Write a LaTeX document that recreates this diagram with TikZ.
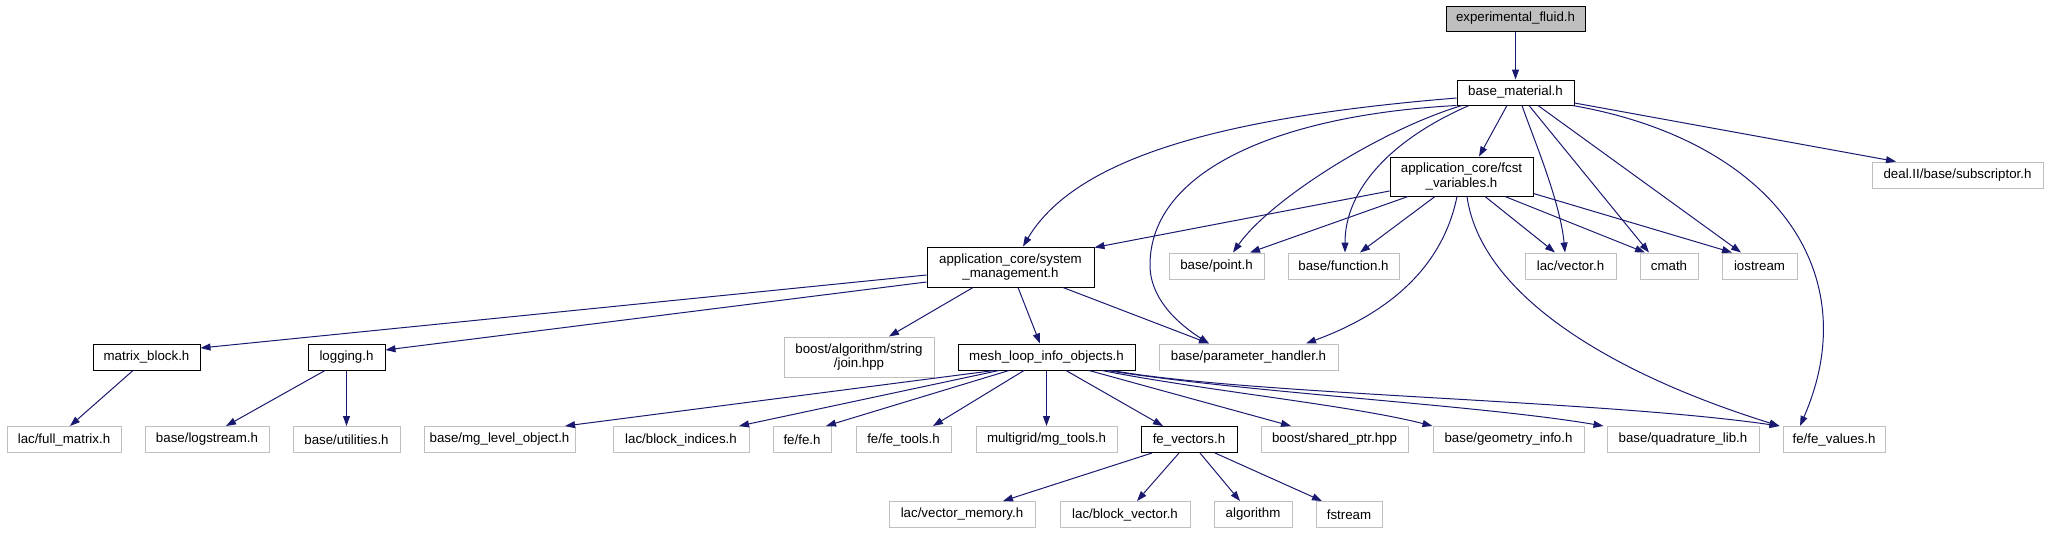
\documentclass[tikz,border=0pt]{standalone}
\usepackage{fontspec}
\setmainfont{Liberation Sans}
\usetikzlibrary{arrows.meta}
\definecolor{edgec}{HTML}{191970}
\definecolor{extc}{HTML}{BFBFBF}
\begin{document}
\begin{tikzpicture}[x=1pt,y=-1pt,
 nd/.style={draw=black, line width=1pt, inner sep=0pt, minimum height=26pt, font=\fontsize{13.3}{14.5}\selectfont, align=center},
 ext/.style={nd, draw=extc},
 ed/.style={draw=edgec, line width=1pt, -{Triangle[length=10pt,width=7pt]}}]
\useasboundingbox (0,0) rectangle (2048,533);
% row 0-1
\node[nd, fill=extc, minimum width=139pt, minimum height=25pt] (exp) at (1515.5,18.5) {experimental\_fluid.h};
\node[nd, minimum width=117pt, minimum height=25pt] (bm) at (1515.5,92.5) {base\_material.h};
% row 2
\node[nd, minimum width=143pt, minimum height=39pt] (fcst) at (1461.5,176.5) {application\_core/fcst\\\_variables.h};
\node[ext, minimum width=171pt] (subs) at (1957.5,175) {deal.II/base/subscriptor.h};
% row 3
\node[nd, minimum width=167pt, minimum height=40pt] (sm) at (1010.5,267) {application\_core/system\\\_management.h};
\node[ext, minimum width=95pt] (point) at (1216.5,266) {base/point.h};
\node[ext, minimum width=111pt] (func) at (1343.5,266) {base/function.h};
\node[ext, minimum width=91pt] (vec) at (1570.5,266) {lac/vector.h};
\node[ext, minimum width=58pt] (cmath) at (1669,266) {cmath};
\node[ext, minimum width=75pt] (iostr) at (1759.5,266) {iostream};
% row 4
\node[nd, minimum width=107pt] (mb) at (146.5,357) {matrix\_block.h};
\node[nd, minimum width=77pt] (logging) at (346.5,357) {logging.h};
\node[ext, minimum width=150pt, minimum height=40pt] (join) at (859,357) {boost/algorithm/string\\/join.hpp};
\node[nd, minimum width=177pt] (mesh) at (1046.5,357) {mesh\_loop\_info\_objects.h};
\node[ext, minimum width=179pt] (param) at (1248.5,357) {base/parameter\_handler.h};
% row 5
\node[ext, minimum width=114pt] (fullm) at (64,439.5) {lac/full\_matrix.h};
\node[ext, minimum width=124pt] (logstr) at (207,439.5) {base/logstream.h};
\node[ext, minimum width=107pt] (util) at (346.5,439.5) {base/utilities.h};
\node[ext, minimum width=151pt] (mglevel) at (499.5,439.5) {base/mg\_level\_object.h};
\node[ext, minimum width=136pt] (blockidx) at (681,439.5) {lac/block\_indices.h};
\node[ext, minimum width=58pt] (fe) at (802,439.5) {fe/fe.h};
\node[ext, minimum width=95pt] (fetools) at (903.5,439.5) {fe/fe\_tools.h};
\node[ext, minimum width=141pt] (mgtools) at (1046.5,439.5) {multigrid/mg\_tools.h};
\node[nd, minimum width=96pt] (fevec) at (1189,439.5) {fe\_vectors.h};
\node[ext, minimum width=147pt] (shptr) at (1334.5,439.5) {boost/shared\_ptr.hpp};
\node[ext, minimum width=151pt] (geom) at (1508.5,439.5) {base/geometry\_info.h};
\node[ext, minimum width=152pt] (quad) at (1683,439.5) {base/quadrature\_lib.h};
\node[ext, minimum width=102pt] (fevals) at (1834,439.5) {fe/fe\_values.h};
% row 6
\node[ext, minimum width=146pt] (vecmem) at (962,514.5) {lac/vector\_memory.h};
\node[ext, minimum width=130pt] (blockvec) at (1125,514.5) {lac/block\_vector.h};
\node[ext, minimum width=78pt] (algo) at (1253,514.5) {algorithm};
\node[ext, minimum width=66pt] (fstr) at (1349,514.5) {fstream};

% edges from experimental_fluid / base_material
\draw[ed] (exp) -- (bm);
\draw[ed] ([xshift=-8.5pt]bm.south) -- ([xshift=17.5pt]fcst.north);
\draw[ed] ([yshift=-10.5pt]bm.east) -- ([xshift=-61.5pt]subs.north);
\draw[ed] ([xshift=6.5pt]bm.south) .. controls (1532,135) and (1560,200) .. ([xshift=-5.5pt]vec.north);
\draw[ed] ([xshift=13.5pt]bm.south) -- ([xshift=-20pt]cmath.north);
\draw[ed] ([xshift=22.5pt]bm.south) -- ([xshift=-18.5pt]iostr.north);
\draw[ed] ([xshift=-2pt]bm.south east) .. controls (1770,140) and (1868,270) .. ([xshift=-34pt]fevals.north);
\draw[ed] ([xshift=-46.5pt]bm.south) .. controls (1390,140) and (1345,190) .. ([xshift=1.5pt]func.north);
\draw[ed] ([xshift=-53.5pt]bm.south) .. controls (1380,130) and (1270,200) .. ([xshift=16.5pt]point.north);
\draw[ed] (bm.south west) .. controls (1280,115) and (1150,170) .. (1150,265) .. controls (1150,300) and (1180,325) .. ([xshift=-39.5pt]param.north);
\draw[ed] ([yshift=-5.5pt]bm.west) .. controls (1250,115) and (1080,150) .. ([xshift=12.5pt]sm.north);

% edges from fcst_variables
\draw[ed] ([yshift=-14.5pt]fcst.west) -- ([yshift=-1pt]sm.north east);
\draw[ed] ([xshift=-53.5pt]fcst.south) -- ([xshift=33.5pt]point.north);
\draw[ed] ([xshift=-26.5pt]fcst.south) -- ([xshift=16.5pt]func.north);
\draw[ed] ([xshift=-4.5pt]fcst.south) .. controls (1440,280) and (1370,320) .. ([xshift=57.5pt]param.north);
\draw[ed] ([xshift=5.5pt]fcst.south) .. controls (1480,290) and (1600,370) .. ([xshift=-3pt]fevals.north west);
\draw[ed] ([xshift=23.5pt]fcst.south) -- ([xshift=-15.5pt]vec.north);
\draw[ed] ([xshift=43.5pt]fcst.south) -- ([xshift=-24pt]cmath.north);
\draw[ed] ([yshift=3pt]fcst.south east) -- ([xshift=-27.5pt]iostr.north);

% edges from system_management
\draw[ed] ([yshift=-8pt]sm.west) -- ([yshift=9pt]mb.east);
\draw[ed] ([yshift=-15pt]sm.west) -- ([yshift=7pt]logging.east);
\draw[ed] ([xshift=-37.5pt]sm.south) -- ([xshift=30pt]join.north);
\draw[ed] ([xshift=7.5pt]sm.south) -- ([xshift=-6.5pt]mesh.north);
\draw[ed] ([xshift=52.5pt]sm.south) -- ([xshift=-39.5pt]param.north);

% matrix_block, logging
\draw[ed] ([xshift=-13.5pt]mb.south) -- ([xshift=6pt]fullm.north);
\draw[ed] ([xshift=-21.5pt]logging.south) -- ([xshift=19pt]logstr.north);
\draw[ed] (logging) -- (util);

% mesh_loop_info_objects
\draw[ed] ([xshift=-52.5pt]mesh.south) -- ([xshift=65.5pt]mglevel.north);
\draw[ed] ([xshift=-47.5pt]mesh.south) -- ([xshift=58pt]blockidx.north);
\draw[ed] ([xshift=-37.5pt]mesh.south) -- ([xshift=24pt]fe.north);
\draw[ed] ([xshift=-22.5pt]mesh.south) -- ([xshift=29.5pt]fetools.north);
\draw[ed] (mesh) -- (mgtools);
\draw[ed] ([xshift=19.5pt]mesh.south) -- ([xshift=-26pt]fevec.north);
\draw[ed] ([xshift=42.5pt]mesh.south) -- ([xshift=-43.5pt]shptr.north);
\draw[ed] ([xshift=55.5pt]mesh.south) .. controls (1200,390) and (1350,405) .. (geom.north west);
\draw[ed] ([xshift=60.5pt]mesh.south) .. controls (1250,393) and (1480,405) .. ([xshift=-3pt]quad.north west);
\draw[ed] ([xshift=65.5pt]mesh.south) .. controls (1250,395) and (1600,400) .. ([xshift=-3pt]fevals.north west);

% fe_vectors
\draw[ed] ([xshift=-37pt]fevec.south) -- ([xshift=41pt]vecmem.north);
\draw[ed] ([xshift=-10pt]fevec.south) -- ([xshift=12pt]blockvec.north);
\draw[ed] ([xshift=11pt]fevec.south) -- ([xshift=-13pt]algo.north);
\draw[ed] ([xshift=26pt]fevec.south) -- ([xshift=-27pt]fstr.north);
\end{tikzpicture}
\end{document}
